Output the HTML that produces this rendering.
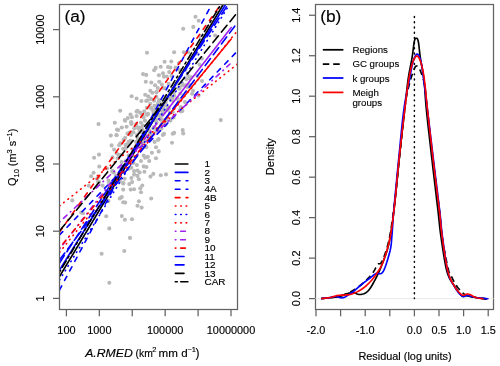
<!DOCTYPE html>
<html><head><meta charset="utf-8"><style>html,body{margin:0;padding:0;background:#fff;width:500px;height:366px;overflow:hidden}svg{display:block;will-change:transform}</style></head>
<body><svg width="500" height="366" viewBox="0 0 500 366"><rect width="500" height="366" fill="#fff"/><g fill="#b9b9b9"><circle cx="147.0" cy="52.8" r="2.05"/><circle cx="174.1" cy="52.3" r="2.05"/><circle cx="164.6" cy="61.8" r="2.05"/><circle cx="171.3" cy="61.5" r="2.05"/><circle cx="160.7" cy="66.7" r="2.05"/><circle cx="155.7" cy="67.9" r="2.05"/><circle cx="154.1" cy="70.3" r="2.05"/><circle cx="168.0" cy="67.0" r="2.05"/><circle cx="170.5" cy="67.5" r="2.05"/><circle cx="143.0" cy="74.1" r="2.05"/><circle cx="146.2" cy="74.9" r="2.05"/><circle cx="158.9" cy="75.2" r="2.05"/><circle cx="163.0" cy="73.3" r="2.05"/><circle cx="169.2" cy="72.1" r="2.05"/><circle cx="163.9" cy="76.6" r="2.05"/><circle cx="166.7" cy="76.6" r="2.05"/><circle cx="175.7" cy="67.5" r="2.05"/><circle cx="195.5" cy="16.8" r="2.05"/><circle cx="198.7" cy="20.8" r="2.05"/><circle cx="193.3" cy="26.9" r="2.05"/><circle cx="183.2" cy="28.8" r="2.05"/><circle cx="215.2" cy="35.5" r="2.05"/><circle cx="200.0" cy="36.0" r="2.05"/><circle cx="183.9" cy="52.3" r="2.05"/><circle cx="179.0" cy="63.0" r="2.05"/><circle cx="176.6" cy="68.7" r="2.05"/><circle cx="199.5" cy="64.6" r="2.05"/><circle cx="202.0" cy="81.0" r="2.05"/><circle cx="186.4" cy="79.3" r="2.05"/><circle cx="189.7" cy="85.0" r="2.05"/><circle cx="179.0" cy="88.4" r="2.05"/><circle cx="193.0" cy="90.8" r="2.05"/><circle cx="172.5" cy="97.4" r="2.05"/><circle cx="145.8" cy="81.8" r="2.05"/><circle cx="151.3" cy="82.5" r="2.05"/><circle cx="155.1" cy="85.2" r="2.05"/><circle cx="159.2" cy="81.8" r="2.05"/><circle cx="161.9" cy="84.6" r="2.05"/><circle cx="157.8" cy="88.0" r="2.05"/><circle cx="163.3" cy="88.0" r="2.05"/><circle cx="150.3" cy="90.7" r="2.05"/><circle cx="152.3" cy="92.8" r="2.05"/><circle cx="156.4" cy="92.1" r="2.05"/><circle cx="131.6" cy="96.2" r="2.05"/><circle cx="136.6" cy="98.5" r="2.05"/><circle cx="141.4" cy="101.0" r="2.05"/><circle cx="145.2" cy="94.8" r="2.05"/><circle cx="148.3" cy="96.2" r="2.05"/><circle cx="146.2" cy="101.0" r="2.05"/><circle cx="147.6" cy="100.3" r="2.05"/><circle cx="151.0" cy="98.9" r="2.05"/><circle cx="150.3" cy="103.7" r="2.05"/><circle cx="156.4" cy="96.9" r="2.05"/><circle cx="159.2" cy="100.3" r="2.05"/><circle cx="146.9" cy="107.8" r="2.05"/><circle cx="151.0" cy="107.8" r="2.05"/><circle cx="154.4" cy="105.7" r="2.05"/><circle cx="157.8" cy="104.4" r="2.05"/><circle cx="120.2" cy="110.8" r="2.05"/><circle cx="136.6" cy="111.6" r="2.05"/><circle cx="140.0" cy="112.6" r="2.05"/><circle cx="144.2" cy="111.2" r="2.05"/><circle cx="130.5" cy="114.6" r="2.05"/><circle cx="127.8" cy="118.0" r="2.05"/><circle cx="124.8" cy="120.1" r="2.05"/><circle cx="131.9" cy="117.3" r="2.05"/><circle cx="136.6" cy="116.0" r="2.05"/><circle cx="142.1" cy="114.6" r="2.05"/><circle cx="114.8" cy="122.8" r="2.05"/><circle cx="131.2" cy="122.1" r="2.05"/><circle cx="143.5" cy="117.3" r="2.05"/><circle cx="147.6" cy="114.6" r="2.05"/><circle cx="220.8" cy="120.1" r="2.05"/><circle cx="174.1" cy="132.9" r="2.05"/><circle cx="183.2" cy="133.4" r="2.05"/><circle cx="164.0" cy="133.9" r="2.05"/><circle cx="172.0" cy="142.7" r="2.05"/><circle cx="160.8" cy="128.6" r="2.05"/><circle cx="173.6" cy="117.4" r="2.05"/><circle cx="170.4" cy="120.6" r="2.05"/><circle cx="161.6" cy="114.2" r="2.05"/><circle cx="182.4" cy="111.0" r="2.05"/><circle cx="98.5" cy="124.1" r="2.05"/><circle cx="118.2" cy="130.0" r="2.05"/><circle cx="110.8" cy="135.6" r="2.05"/><circle cx="116.6" cy="135.2" r="2.05"/><circle cx="119.8" cy="144.3" r="2.05"/><circle cx="111.6" cy="145.4" r="2.05"/><circle cx="114.1" cy="149.5" r="2.05"/><circle cx="99.0" cy="154.6" r="2.05"/><circle cx="94.1" cy="157.7" r="2.05"/><circle cx="112.5" cy="157.4" r="2.05"/><circle cx="116.6" cy="153.3" r="2.05"/><circle cx="125.2" cy="120.7" r="2.05"/><circle cx="117.0" cy="129.6" r="2.05"/><circle cx="121.8" cy="127.5" r="2.05"/><circle cx="126.6" cy="126.8" r="2.05"/><circle cx="116.4" cy="135.0" r="2.05"/><circle cx="120.5" cy="143.2" r="2.05"/><circle cx="125.2" cy="137.8" r="2.05"/><circle cx="131.4" cy="122.7" r="2.05"/><circle cx="138.2" cy="128.2" r="2.05"/><circle cx="141.0" cy="122.7" r="2.05"/><circle cx="145.0" cy="120.7" r="2.05"/><circle cx="143.0" cy="125.5" r="2.05"/><circle cx="133.4" cy="132.3" r="2.05"/><circle cx="136.9" cy="135.0" r="2.05"/><circle cx="130.7" cy="140.5" r="2.05"/><circle cx="138.2" cy="146.0" r="2.05"/><circle cx="132.8" cy="150.0" r="2.05"/><circle cx="128.7" cy="155.5" r="2.05"/><circle cx="123.2" cy="148.7" r="2.05"/><circle cx="117.7" cy="158.3" r="2.05"/><circle cx="146.4" cy="147.3" r="2.05"/><circle cx="147.8" cy="140.5" r="2.05"/><circle cx="150.5" cy="136.4" r="2.05"/><circle cx="154.6" cy="141.9" r="2.05"/><circle cx="158.7" cy="139.1" r="2.05"/><circle cx="156.0" cy="147.3" r="2.05"/><circle cx="151.9" cy="152.8" r="2.05"/><circle cx="158.7" cy="151.4" r="2.05"/><circle cx="156.0" cy="158.3" r="2.05"/><circle cx="149.2" cy="161.0" r="2.05"/><circle cx="147.8" cy="156.9" r="2.05"/><circle cx="143.7" cy="155.5" r="2.05"/><circle cx="141.0" cy="161.0" r="2.05"/><circle cx="136.9" cy="165.1" r="2.05"/><circle cx="143.7" cy="166.4" r="2.05"/><circle cx="131.4" cy="167.8" r="2.05"/><circle cx="161.4" cy="128.2" r="2.05"/><circle cx="162.8" cy="135.0" r="2.05"/><circle cx="153.3" cy="128.2" r="2.05"/><circle cx="149.2" cy="130.9" r="2.05"/><circle cx="99.3" cy="166.5" r="2.05"/><circle cx="93.6" cy="172.7" r="2.05"/><circle cx="91.1" cy="176.3" r="2.05"/><circle cx="96.9" cy="178.8" r="2.05"/><circle cx="72.3" cy="200.4" r="2.05"/><circle cx="83.0" cy="213.2" r="2.05"/><circle cx="109.2" cy="188.6" r="2.05"/><circle cx="119.8" cy="198.4" r="2.05"/><circle cx="101.8" cy="197.6" r="2.05"/><circle cx="108.4" cy="200.9" r="2.05"/><circle cx="146.4" cy="167.0" r="2.05"/><circle cx="134.1" cy="171.1" r="2.05"/><circle cx="137.5" cy="170.5" r="2.05"/><circle cx="139.6" cy="172.5" r="2.05"/><circle cx="134.1" cy="174.6" r="2.05"/><circle cx="137.5" cy="175.9" r="2.05"/><circle cx="131.4" cy="178.0" r="2.05"/><circle cx="138.9" cy="179.3" r="2.05"/><circle cx="144.4" cy="171.8" r="2.05"/><circle cx="150.5" cy="176.6" r="2.05"/><circle cx="153.3" cy="173.9" r="2.05"/><circle cx="160.8" cy="175.2" r="2.05"/><circle cx="123.2" cy="183.4" r="2.05"/><circle cx="129.3" cy="184.1" r="2.05"/><circle cx="132.1" cy="182.1" r="2.05"/><circle cx="142.3" cy="185.5" r="2.05"/><circle cx="140.3" cy="188.2" r="2.05"/><circle cx="123.2" cy="189.6" r="2.05"/><circle cx="130.7" cy="189.6" r="2.05"/><circle cx="134.1" cy="189.3" r="2.05"/><circle cx="141.0" cy="192.3" r="2.05"/><circle cx="121.8" cy="197.1" r="2.05"/><circle cx="123.2" cy="202.2" r="2.05"/><circle cx="125.2" cy="202.6" r="2.05"/><circle cx="138.9" cy="201.2" r="2.05"/><circle cx="151.2" cy="198.5" r="2.05"/><circle cx="137.5" cy="205.7" r="2.05"/><circle cx="141.6" cy="207.6" r="2.05"/><circle cx="124.6" cy="178.7" r="2.05"/><circle cx="121.8" cy="168.4" r="2.05"/><circle cx="106.2" cy="216.2" r="2.05"/><circle cx="121.8" cy="216.1" r="2.05"/><circle cx="124.9" cy="219.8" r="2.05"/><circle cx="132.0" cy="219.3" r="2.05"/><circle cx="109.3" cy="228.4" r="2.05"/><circle cx="130.0" cy="237.9" r="2.05"/><circle cx="124.3" cy="251.0" r="2.05"/><circle cx="101.6" cy="253.8" r="2.05"/><circle cx="109.3" cy="282.7" r="2.05"/><circle cx="166.0" cy="174.4" r="2.05"/><circle cx="159.5" cy="130.5" r="2.05"/><circle cx="176.6" cy="83.7" r="2.05"/><circle cx="139.4" cy="131.9" r="2.05"/><circle cx="163.5" cy="106.7" r="2.05"/><circle cx="156.5" cy="92.3" r="2.05"/><circle cx="187.6" cy="74.9" r="2.05"/><circle cx="165.7" cy="102.8" r="2.05"/><circle cx="143.7" cy="139.3" r="2.05"/><circle cx="168.8" cy="97.9" r="2.05"/><circle cx="150.6" cy="133.2" r="2.05"/><circle cx="119.2" cy="145.2" r="2.05"/><circle cx="155.4" cy="109.2" r="2.05"/><circle cx="98.0" cy="181.9" r="2.05"/><circle cx="131.0" cy="134.0" r="2.05"/><circle cx="113.8" cy="172.5" r="2.05"/><circle cx="170.4" cy="95.4" r="2.05"/><circle cx="134.3" cy="150.5" r="2.05"/><circle cx="165.6" cy="100.8" r="2.05"/><circle cx="169.9" cy="112.8" r="2.05"/><circle cx="139.8" cy="127.6" r="2.05"/><circle cx="160.0" cy="115.2" r="2.05"/><circle cx="168.7" cy="83.9" r="2.05"/><circle cx="128.5" cy="141.9" r="2.05"/><circle cx="108.5" cy="180.6" r="2.05"/><circle cx="158.2" cy="104.7" r="2.05"/><circle cx="189.0" cy="85.1" r="2.05"/><circle cx="167.8" cy="107.1" r="2.05"/><circle cx="164.9" cy="88.2" r="2.05"/><circle cx="168.8" cy="108.5" r="2.05"/><circle cx="109.1" cy="182.7" r="2.05"/><circle cx="148.8" cy="136.8" r="2.05"/><circle cx="139.2" cy="138.8" r="2.05"/><circle cx="152.8" cy="109.9" r="2.05"/><circle cx="163.9" cy="105.5" r="2.05"/><circle cx="158.7" cy="106.8" r="2.05"/><circle cx="180.3" cy="93.5" r="2.05"/><circle cx="149.7" cy="133.7" r="2.05"/><circle cx="192.1" cy="93.8" r="2.05"/><circle cx="117.2" cy="179.2" r="2.05"/><circle cx="160.7" cy="109.8" r="2.05"/><circle cx="133.4" cy="163.0" r="2.05"/><circle cx="122.8" cy="167.8" r="2.05"/><circle cx="171.6" cy="75.9" r="2.05"/><circle cx="134.3" cy="128.2" r="2.05"/><circle cx="165.6" cy="124.6" r="2.05"/><circle cx="188.1" cy="52.2" r="2.05"/><circle cx="140.4" cy="146.7" r="2.05"/><circle cx="191.2" cy="77.0" r="2.05"/><circle cx="133.7" cy="150.1" r="2.05"/><circle cx="148.3" cy="124.5" r="2.05"/><circle cx="134.5" cy="150.2" r="2.05"/><circle cx="156.9" cy="114.8" r="2.05"/><circle cx="136.4" cy="125.8" r="2.05"/><circle cx="145.8" cy="146.3" r="2.05"/><circle cx="136.2" cy="124.0" r="2.05"/><circle cx="185.9" cy="85.3" r="2.05"/><circle cx="201.8" cy="58.5" r="2.05"/><circle cx="129.6" cy="132.6" r="2.05"/><circle cx="198.6" cy="95.6" r="2.05"/><circle cx="125.9" cy="147.9" r="2.05"/><circle cx="159.3" cy="102.0" r="2.05"/><circle cx="141.2" cy="131.9" r="2.05"/><circle cx="161.6" cy="124.3" r="2.05"/><circle cx="156.4" cy="128.8" r="2.05"/><circle cx="141.8" cy="139.9" r="2.05"/><circle cx="88.7" cy="185.7" r="2.05"/><circle cx="165.7" cy="96.9" r="2.05"/><circle cx="167.6" cy="109.3" r="2.05"/><circle cx="187.4" cy="87.0" r="2.05"/><circle cx="174.1" cy="92.2" r="2.05"/><circle cx="128.3" cy="143.6" r="2.05"/><circle cx="130.9" cy="135.0" r="2.05"/><circle cx="136.1" cy="141.9" r="2.05"/><circle cx="154.0" cy="115.4" r="2.05"/><circle cx="102.6" cy="185.6" r="2.05"/><circle cx="162.4" cy="123.1" r="2.05"/><circle cx="160.0" cy="103.5" r="2.05"/><circle cx="145.1" cy="157.8" r="2.05"/><circle cx="180.1" cy="109.9" r="2.05"/><circle cx="196.7" cy="53.5" r="2.05"/><circle cx="162.3" cy="115.0" r="2.05"/><circle cx="167.1" cy="109.9" r="2.05"/><circle cx="156.0" cy="119.4" r="2.05"/><circle cx="112.3" cy="171.8" r="2.05"/><circle cx="132.6" cy="149.3" r="2.05"/><circle cx="142.5" cy="142.8" r="2.05"/><circle cx="171.9" cy="100.5" r="2.05"/><circle cx="158.3" cy="115.4" r="2.05"/><circle cx="138.0" cy="138.4" r="2.05"/><circle cx="140.4" cy="142.6" r="2.05"/><circle cx="154.0" cy="127.4" r="2.05"/><circle cx="123.2" cy="171.5" r="2.05"/><circle cx="126.7" cy="145.6" r="2.05"/><circle cx="141.6" cy="128.5" r="2.05"/><circle cx="153.5" cy="113.0" r="2.05"/><circle cx="118.6" cy="154.8" r="2.05"/><circle cx="182.3" cy="83.6" r="2.05"/><circle cx="121.6" cy="162.1" r="2.05"/><circle cx="123.4" cy="183.1" r="2.05"/><circle cx="115.9" cy="175.7" r="2.05"/><circle cx="154.1" cy="100.7" r="2.05"/><circle cx="163.6" cy="120.3" r="2.05"/><circle cx="163.1" cy="111.4" r="2.05"/><circle cx="174.2" cy="95.7" r="2.05"/><circle cx="157.4" cy="113.7" r="2.05"/><circle cx="159.4" cy="100.4" r="2.05"/><circle cx="166.1" cy="97.4" r="2.05"/><circle cx="125.7" cy="161.4" r="2.05"/><circle cx="197.4" cy="76.0" r="2.05"/><circle cx="141.9" cy="144.8" r="2.05"/><circle cx="138.1" cy="138.8" r="2.05"/><circle cx="137.5" cy="110.9" r="2.05"/><circle cx="148.1" cy="113.9" r="2.05"/><circle cx="123.6" cy="139.9" r="2.05"/><circle cx="107.0" cy="168.5" r="2.05"/><circle cx="180.7" cy="107.0" r="2.05"/><circle cx="156.3" cy="131.1" r="2.05"/><circle cx="131.4" cy="124.0" r="2.05"/><circle cx="156.5" cy="122.4" r="2.05"/><circle cx="141.5" cy="140.1" r="2.05"/><circle cx="158.5" cy="102.6" r="2.05"/><circle cx="112.6" cy="170.7" r="2.05"/><circle cx="142.6" cy="130.0" r="2.05"/><circle cx="185.0" cy="102.1" r="2.05"/><circle cx="144.3" cy="141.6" r="2.05"/><circle cx="177.5" cy="98.6" r="2.05"/><circle cx="173.1" cy="89.9" r="2.05"/><circle cx="180.9" cy="111.4" r="2.05"/><circle cx="165.7" cy="96.5" r="2.05"/><circle cx="172.8" cy="111.9" r="2.05"/><circle cx="155.4" cy="110.6" r="2.05"/><circle cx="179.7" cy="70.0" r="2.05"/><circle cx="162.2" cy="109.0" r="2.05"/><circle cx="128.6" cy="168.8" r="2.05"/><circle cx="151.1" cy="108.3" r="2.05"/><circle cx="161.9" cy="103.8" r="2.05"/><circle cx="99.2" cy="182.0" r="2.05"/><circle cx="160.5" cy="119.7" r="2.05"/><circle cx="154.3" cy="120.0" r="2.05"/><circle cx="160.1" cy="109.1" r="2.05"/><circle cx="179.6" cy="88.4" r="2.05"/><circle cx="160.6" cy="118.3" r="2.05"/><circle cx="119.7" cy="155.1" r="2.05"/><circle cx="189.4" cy="78.2" r="2.05"/><circle cx="145.3" cy="135.6" r="2.05"/><circle cx="140.0" cy="141.6" r="2.05"/><circle cx="135.5" cy="147.5" r="2.05"/><circle cx="120.0" cy="181.5" r="2.05"/><circle cx="127.5" cy="133.6" r="2.05"/><circle cx="142.2" cy="130.3" r="2.05"/><circle cx="146.5" cy="114.6" r="2.05"/><circle cx="182.7" cy="130.1" r="2.05"/><circle cx="121.0" cy="167.2" r="2.05"/><circle cx="143.6" cy="135.8" r="2.05"/><circle cx="98.5" cy="176.8" r="2.05"/><circle cx="161.0" cy="110.2" r="2.05"/><circle cx="185.4" cy="69.7" r="2.05"/><circle cx="172.7" cy="133.7" r="2.05"/><circle cx="125.6" cy="144.9" r="2.05"/><circle cx="148.9" cy="125.9" r="2.05"/><circle cx="171.4" cy="98.9" r="2.05"/><circle cx="132.9" cy="150.0" r="2.05"/><circle cx="81.2" cy="212.5" r="2.05"/><circle cx="132.6" cy="155.8" r="2.05"/><circle cx="158.0" cy="139.9" r="2.05"/><circle cx="178.4" cy="99.8" r="2.05"/><circle cx="154.3" cy="118.9" r="2.05"/><circle cx="166.5" cy="120.5" r="2.05"/><circle cx="160.8" cy="106.3" r="2.05"/><circle cx="182.3" cy="85.5" r="2.05"/></g><clipPath id="ca"><rect x="59.5" y="4.5" width="178.0" height="305.0"/></clipPath><g clip-path="url(#ca)" fill="none" stroke-width="1.6" stroke-linecap="round"><line x1="59.5" y1="276.5" x2="223.2" y2="4.5" stroke="#000"/><line x1="59.5" y1="270" x2="225.6" y2="4.5" stroke="#0000ff"/><line x1="59.5" y1="290" x2="211.7" y2="4.5" stroke="#0000ff" stroke-dasharray="4.68 6.12"/><line x1="59.5" y1="235" x2="237.5" y2="51" stroke="#0000ff" stroke-dasharray="4.68 6.12"/><line x1="59.5" y1="232" x2="220.8" y2="4.5" stroke="#ff0000" stroke-dasharray="4.68 6.12"/><line x1="59.5" y1="206" x2="237.5" y2="64" stroke="#ff0000" stroke-dasharray="0.63 4.77"/><line x1="59.5" y1="280" x2="229.5" y2="4.5" stroke="#0000ff" stroke-dasharray="0.63 4.77"/><line x1="59.5" y1="252.4" x2="237.5" y2="30.6" stroke="#ff0000" stroke-dasharray="0.63 4.77"/><line x1="59.5" y1="249.0" x2="165" y2="112.90069889341873" stroke="#a020f0" stroke-dasharray="0.63 4.77 4.68 4.77"/><line x1="165" y1="112.90069889341873" x2="231.2" y2="27.5" stroke="#a020f0"/><line x1="59.5" y1="222" x2="230" y2="64" stroke="#a020f0" stroke-dasharray="0.63 4.77 4.68 4.77"/><line x1="59.5" y1="248.0" x2="160" y2="125.66744321490972" stroke="#ff0000" stroke-dasharray="0.63 4.77 4.68 4.77"/><line x1="160" y1="125.66744321490972" x2="231.2" y2="39.0" stroke="#ff0000"/><line x1="59.5" y1="263" x2="228" y2="4.5" stroke="#0000ff" stroke-dasharray="8.73 4.77"/><line x1="59.5" y1="260" x2="237.5" y2="22.5" stroke="#0000ff" stroke-dasharray="8.73 4.77"/><line x1="59.5" y1="231" x2="237.5" y2="12.4" stroke="#000" stroke-dasharray="8.73 4.77"/><line x1="59.5" y1="272" x2="220.8" y2="4.5" stroke="#000" stroke-dasharray="1.98 3.42 7.38 3.42"/></g><rect x="59.5" y="4.5" width="178.0" height="305.0" fill="none" stroke="#626262" stroke-width="1.25"/><rect x="315.5" y="4.5" width="178.0" height="305.0" fill="none" stroke="#626262" stroke-width="1.25"/><line x1="66.40" y1="309.5" x2="66.40" y2="316.3" stroke="#626262" stroke-width="1.25"/><line x1="99.32" y1="309.5" x2="99.32" y2="316.3" stroke="#626262" stroke-width="1.25"/><line x1="132.24" y1="309.5" x2="132.24" y2="316.3" stroke="#626262" stroke-width="1.25"/><line x1="165.16" y1="309.5" x2="165.16" y2="316.3" stroke="#626262" stroke-width="1.25"/><line x1="198.08" y1="309.5" x2="198.08" y2="316.3" stroke="#626262" stroke-width="1.25"/><line x1="231.00" y1="309.5" x2="231.00" y2="316.3" stroke="#626262" stroke-width="1.25"/><line x1="53" y1="298.40" x2="59.5" y2="298.40" stroke="#626262" stroke-width="1.25"/><line x1="53" y1="231.20" x2="59.5" y2="231.20" stroke="#626262" stroke-width="1.25"/><line x1="53" y1="164.00" x2="59.5" y2="164.00" stroke="#626262" stroke-width="1.25"/><line x1="53" y1="96.80" x2="59.5" y2="96.80" stroke="#626262" stroke-width="1.25"/><line x1="53" y1="29.60" x2="59.5" y2="29.60" stroke="#626262" stroke-width="1.25"/><line x1="316.00" y1="309.5" x2="316.00" y2="316.3" stroke="#626262" stroke-width="1.25"/><line x1="340.60" y1="309.5" x2="340.60" y2="316.3" stroke="#626262" stroke-width="1.25"/><line x1="365.20" y1="309.5" x2="365.20" y2="316.3" stroke="#626262" stroke-width="1.25"/><line x1="389.80" y1="309.5" x2="389.80" y2="316.3" stroke="#626262" stroke-width="1.25"/><line x1="414.40" y1="309.5" x2="414.40" y2="316.3" stroke="#626262" stroke-width="1.25"/><line x1="439.00" y1="309.5" x2="439.00" y2="316.3" stroke="#626262" stroke-width="1.25"/><line x1="463.60" y1="309.5" x2="463.60" y2="316.3" stroke="#626262" stroke-width="1.25"/><line x1="488.20" y1="309.5" x2="488.20" y2="316.3" stroke="#626262" stroke-width="1.25"/><line x1="309" y1="298.60" x2="315.5" y2="298.60" stroke="#626262" stroke-width="1.25"/><line x1="309" y1="258.12" x2="315.5" y2="258.12" stroke="#626262" stroke-width="1.25"/><line x1="309" y1="217.64" x2="315.5" y2="217.64" stroke="#626262" stroke-width="1.25"/><line x1="309" y1="177.16" x2="315.5" y2="177.16" stroke="#626262" stroke-width="1.25"/><line x1="309" y1="136.68" x2="315.5" y2="136.68" stroke="#626262" stroke-width="1.25"/><line x1="309" y1="96.20" x2="315.5" y2="96.20" stroke="#626262" stroke-width="1.25"/><line x1="309" y1="55.72" x2="315.5" y2="55.72" stroke="#626262" stroke-width="1.25"/><line x1="309" y1="15.24" x2="315.5" y2="15.24" stroke="#626262" stroke-width="1.25"/><g font-family='"Liberation Sans", sans-serif' fill="#000" stroke="#000" stroke-width="0.15"><text x="0" y="0" font-size="10.9" text-anchor="middle" transform="translate(66.40 333.6) scale(1.0 1)">100</text><text x="0" y="0" font-size="10.9" text-anchor="middle" transform="translate(99.32 333.6) scale(1.0 1)">1000</text><text x="0" y="0" font-size="10.9" text-anchor="middle" transform="translate(165.16 333.6) scale(1.0 1)">100000</text><text x="0" y="0" font-size="10.9" text-anchor="middle" transform="translate(231.00 333.6) scale(1.0 1)">10000000</text><text x="0" y="0" font-size="10.9" text-anchor="middle" transform="translate(44.3 298.40) rotate(-90) scale(1.0 1)">1</text><text x="0" y="0" font-size="10.9" text-anchor="middle" transform="translate(44.3 231.20) rotate(-90) scale(1.0 1)">10</text><text x="0" y="0" font-size="10.9" text-anchor="middle" transform="translate(44.3 164.00) rotate(-90) scale(1.0 1)">100</text><text x="0" y="0" font-size="10.9" text-anchor="middle" transform="translate(44.3 96.80) rotate(-90) scale(1.0 1)">1000</text><text x="0" y="0" font-size="10.9" text-anchor="middle" transform="translate(44.3 29.60) rotate(-90) scale(1.0 1)">10000</text><text x="0" y="0" font-size="10.9" text-anchor="middle" transform="translate(316.00 333.6) scale(1.0 1)">-2.0</text><text x="0" y="0" font-size="10.9" text-anchor="middle" transform="translate(365.20 333.6) scale(1.0 1)">-1.0</text><text x="0" y="0" font-size="10.9" text-anchor="middle" transform="translate(414.40 333.6) scale(1.0 1)">0.0</text><text x="0" y="0" font-size="10.9" text-anchor="middle" transform="translate(439.00 333.6) scale(1.0 1)">0.5</text><text x="0" y="0" font-size="10.9" text-anchor="middle" transform="translate(463.60 333.6) scale(1.0 1)">1.0</text><text x="0" y="0" font-size="10.9" text-anchor="middle" transform="translate(488.20 333.6) scale(1.0 1)">1.5</text><text x="0" y="0" font-size="10.9" text-anchor="middle" transform="translate(300.4 298.60) rotate(-90) scale(1.0 1)">0.0</text><text x="0" y="0" font-size="10.9" text-anchor="middle" transform="translate(300.4 258.12) rotate(-90) scale(1.0 1)">0.2</text><text x="0" y="0" font-size="10.9" text-anchor="middle" transform="translate(300.4 217.64) rotate(-90) scale(1.0 1)">0.4</text><text x="0" y="0" font-size="10.9" text-anchor="middle" transform="translate(300.4 177.16) rotate(-90) scale(1.0 1)">0.6</text><text x="0" y="0" font-size="10.9" text-anchor="middle" transform="translate(300.4 136.68) rotate(-90) scale(1.0 1)">0.8</text><text x="0" y="0" font-size="10.9" text-anchor="middle" transform="translate(300.4 96.20) rotate(-90) scale(1.0 1)">1.0</text><text x="0" y="0" font-size="10.9" text-anchor="middle" transform="translate(300.4 55.72) rotate(-90) scale(1.0 1)">1.2</text><text x="0" y="0" font-size="10.9" text-anchor="middle" transform="translate(300.4 15.24) rotate(-90) scale(1.0 1)">1.4</text><text x="0" y="0" font-size="17.3" text-anchor="start" transform="translate(64.4 21.9) scale(1.0 1)">(a)</text><text x="0" y="0" font-size="17.3" text-anchor="start" transform="translate(320.2 22.1) scale(1.0 1)">(b)</text><text x="85.2" y="356.8" font-size="11.4" font-style="italic" textLength="47.6" lengthAdjust="spacingAndGlyphs">A.RMED</text><text x="135.6" y="356.8" font-size="11.2" textLength="17.2" lengthAdjust="spacingAndGlyphs">(km</text><text x="152.3" y="352" font-size="7.6">2</text><text x="158.6" y="356.8" font-size="11.2" textLength="29.0" lengthAdjust="spacingAndGlyphs">mm d</text><text x="187.4" y="352" font-size="7.6">−1</text><text x="195.6" y="357" font-size="11.9">)</text><text x="358.4" y="359.6" font-size="10.9">Residual (log units)</text><text x="274.2" y="175.2" font-size="11.1" transform="rotate(-90 274.2 175.2)">Density</text><text x="16" y="186" font-size="10.9" transform="rotate(-90 16 186)">Q<tspan font-size="7.5" dy="3">10</tspan><tspan dy="-3"> (m</tspan><tspan font-size="7.5" dy="-4">3</tspan><tspan dy="4"> s</tspan><tspan font-size="7.5" dy="-4">−1</tspan><tspan dy="4">)</tspan></text></g><g fill="none" stroke-width="1.6" stroke-linecap="round"><line x1="175.3" y1="164.00" x2="187.9" y2="164.00" stroke="#000"/><line x1="175.3" y1="172.41" x2="187.9" y2="172.41" stroke="#0000ff"/><line x1="175.3" y1="180.82" x2="187.9" y2="180.82" stroke="#0000ff" stroke-dasharray="4.68 6.12"/><line x1="175.3" y1="189.23" x2="187.9" y2="189.23" stroke="#0000ff" stroke-dasharray="4.68 6.12"/><line x1="175.3" y1="197.64" x2="187.9" y2="197.64" stroke="#ff0000" stroke-dasharray="4.68 6.12"/><line x1="175.3" y1="206.05" x2="187.9" y2="206.05" stroke="#ff0000" stroke-dasharray="0.63 4.77"/><line x1="175.3" y1="214.46" x2="187.9" y2="214.46" stroke="#0000ff" stroke-dasharray="0.63 4.77"/><line x1="175.3" y1="222.87" x2="187.9" y2="222.87" stroke="#ff0000" stroke-dasharray="0.63 4.77"/><line x1="175.3" y1="231.28" x2="187.9" y2="231.28" stroke="#a020f0" stroke-dasharray="0.63 4.77 4.68 4.77"/><line x1="175.3" y1="239.69" x2="187.9" y2="239.69" stroke="#a020f0" stroke-dasharray="0.63 4.77 4.68 4.77"/><line x1="175.3" y1="248.10" x2="187.9" y2="248.10" stroke="#ff0000" stroke-dasharray="0.63 4.77 4.68 4.77"/><line x1="175.3" y1="256.51" x2="187.9" y2="256.51" stroke="#0000ff" stroke-dasharray="8.73 4.77"/><line x1="175.3" y1="264.92" x2="187.9" y2="264.92" stroke="#0000ff" stroke-dasharray="8.73 4.77"/><line x1="175.3" y1="273.33" x2="187.9" y2="273.33" stroke="#000" stroke-dasharray="8.73 4.77"/><line x1="175.3" y1="281.74" x2="187.9" y2="281.74" stroke="#000" stroke-dasharray="1.98 3.42 7.38 3.42"/></g><g font-family='"Liberation Sans", sans-serif' fill="#000" stroke="#000" stroke-width="0.15"><text x="0" y="0" font-size="9.2" text-anchor="start" transform="translate(204.5 167.20) scale(1.08 1)">1</text><text x="0" y="0" font-size="9.2" text-anchor="start" transform="translate(204.5 175.61) scale(1.08 1)">2</text><text x="0" y="0" font-size="9.2" text-anchor="start" transform="translate(204.5 184.02) scale(1.08 1)">3</text><text x="0" y="0" font-size="9.2" text-anchor="start" transform="translate(204.5 192.43) scale(1.08 1)">4A</text><text x="0" y="0" font-size="9.2" text-anchor="start" transform="translate(204.5 200.84) scale(1.08 1)">4B</text><text x="0" y="0" font-size="9.2" text-anchor="start" transform="translate(204.5 209.25) scale(1.08 1)">5</text><text x="0" y="0" font-size="9.2" text-anchor="start" transform="translate(204.5 217.66) scale(1.08 1)">6</text><text x="0" y="0" font-size="9.2" text-anchor="start" transform="translate(204.5 226.07) scale(1.08 1)">7</text><text x="0" y="0" font-size="9.2" text-anchor="start" transform="translate(204.5 234.48) scale(1.08 1)">8</text><text x="0" y="0" font-size="9.2" text-anchor="start" transform="translate(204.5 242.89) scale(1.08 1)">9</text><text x="0" y="0" font-size="9.2" text-anchor="start" transform="translate(204.5 251.30) scale(1.08 1)">10</text><text x="0" y="0" font-size="9.2" text-anchor="start" transform="translate(204.5 259.71) scale(1.08 1)">11</text><text x="0" y="0" font-size="9.2" text-anchor="start" transform="translate(204.5 268.12) scale(1.08 1)">12</text><text x="0" y="0" font-size="9.2" text-anchor="start" transform="translate(204.5 276.53) scale(1.08 1)">13</text><text x="0" y="0" font-size="9.2" text-anchor="start" transform="translate(204.5 284.94) scale(1.08 1)">CAR</text></g><line x1="315.5" y1="298.60" x2="493.5" y2="298.60" stroke="#ebebeb" stroke-width="1"/><line x1="414.40" y1="16.6" x2="414.40" y2="298.60" stroke="#000" stroke-width="1.5" stroke-linecap="round" stroke-dasharray="0.9 4.31"/><path d="M321.20,298.60 L321.87,298.53 L322.75,298.43 L323.80,298.32 L324.97,298.20 L326.23,298.06 L327.51,297.92 L328.78,297.76 L330.00,297.60 L331.18,297.45 L332.37,297.32 L333.57,297.19 L334.80,297.05 L336.05,296.88 L337.33,296.65 L338.65,296.37 L340.00,296.00 L341.42,295.55 L342.91,295.04 L344.44,294.46 L346.00,293.84 L347.56,293.17 L349.09,292.47 L350.58,291.74 L352.00,291.00 L353.35,290.24 L354.64,289.46 L355.90,288.65 L357.12,287.81 L358.34,286.93 L359.55,286.01 L360.76,285.03 L362.00,284.00 L363.28,282.89 L364.60,281.70 L365.94,280.44 L367.28,279.15 L368.57,277.84 L369.81,276.53 L370.96,275.24 L372.00,274.00 L372.93,272.74 L373.76,271.42 L374.52,270.09 L375.21,268.77 L375.85,267.53 L376.46,266.39 L377.04,265.40 L377.60,264.60 L378.13,264.08 L378.59,263.83 L379.01,263.75 L379.40,263.78 L379.78,263.80 L380.16,263.74 L380.56,263.50 L381.00,263.00 L381.46,262.30 L381.93,261.50 L382.41,260.61 L382.90,259.59 L383.40,258.43 L383.92,257.13 L384.45,255.65 L385.00,254.00 L385.58,252.21 L386.18,250.33 L386.80,248.31 L387.44,246.12 L388.08,243.74 L388.73,241.11 L389.37,238.21 L390.00,235.00 L390.63,231.46 L391.25,227.61 L391.88,223.49 L392.51,219.12 L393.14,214.56 L393.76,209.83 L394.38,204.96 L395.00,200.00 L395.61,194.85 L396.21,189.45 L396.81,183.86 L397.41,178.12 L398.01,172.31 L398.60,166.48 L399.20,160.69 L399.80,155.00 L400.42,149.17 L401.06,143.05 L401.71,136.81 L402.36,130.62 L402.99,124.68 L403.58,119.14 L404.12,114.19 L404.60,110.00 L404.99,106.69 L405.30,104.14 L405.55,102.18 L405.77,100.62 L405.98,99.31 L406.21,98.05 L406.47,96.67 L406.80,95.00 L407.19,93.10 L407.62,91.16 L408.08,89.20 L408.56,87.25 L409.05,85.33 L409.54,83.47 L410.03,81.68 L410.50,80.00 L410.97,78.38 L411.45,76.78 L411.94,75.23 L412.43,73.75 L412.90,72.36 L413.36,71.09 L413.79,69.96 L414.20,69.00 L414.56,68.19 L414.89,67.52 L415.19,66.98 L415.48,66.56 L415.76,66.26 L416.05,66.07 L416.36,65.99 L416.70,66.00 L417.07,66.09 L417.44,66.25 L417.82,66.50 L418.22,66.88 L418.63,67.39 L419.06,68.06 L419.52,68.93 L420.00,70.00 L420.52,71.27 L421.10,72.70 L421.70,74.29 L422.33,76.06 L422.94,78.01 L423.54,80.15 L424.10,82.48 L424.60,85.00 L425.02,87.64 L425.38,90.37 L425.68,93.24 L425.98,96.31 L426.27,99.66 L426.61,103.35 L427.01,107.44 L427.50,112.00 L428.08,117.16 L428.74,122.93 L429.45,129.15 L430.20,135.69 L430.98,142.39 L431.76,149.10 L432.54,155.69 L433.30,162.00 L434.07,168.24 L434.88,174.63 L435.71,181.07 L436.54,187.44 L437.34,193.63 L438.10,199.52 L438.79,205.02 L439.40,210.00 L439.89,214.35 L440.26,218.13 L440.56,221.49 L440.82,224.56 L441.08,227.50 L441.37,230.46 L441.73,233.58 L442.20,237.00 L442.79,240.83 L443.48,244.97 L444.23,249.28 L445.03,253.59 L445.82,257.77 L446.61,261.67 L447.34,265.13 L448.00,268.00 L448.59,270.23 L449.13,271.93 L449.63,273.23 L450.11,274.22 L450.58,275.03 L451.04,275.77 L451.51,276.56 L452.00,277.50 L452.49,278.54 L452.98,279.55 L453.46,280.52 L453.94,281.47 L454.43,282.39 L454.94,283.28 L455.46,284.15 L456.00,285.00 L456.57,285.84 L457.16,286.65 L457.76,287.45 L458.38,288.22 L459.01,288.96 L459.64,289.68 L460.27,290.36 L460.90,291.00 L461.49,291.61 L462.05,292.18 L462.58,292.71 L463.13,293.22 L463.72,293.70 L464.38,294.15 L465.13,294.59 L466.00,295.00 L467.01,295.39 L468.14,295.75 L469.36,296.09 L470.65,296.41 L471.98,296.70 L473.34,296.98 L474.68,297.25 L476.00,297.50 L477.38,297.75 L478.88,297.98 L480.43,298.20 L481.98,298.41 L483.44,298.59 L484.76,298.75 L485.87,298.89 L486.70,299.00" fill="none" stroke="#000" stroke-width="1.65" stroke-linejoin="round" stroke-dasharray="6 4"/><path d="M321.20,298.60 L321.87,298.54 L322.75,298.47 L323.80,298.39 L324.97,298.29 L326.23,298.19 L327.51,298.07 L328.78,297.94 L330.00,297.80 L331.18,297.66 L332.37,297.53 L333.57,297.39 L334.80,297.24 L336.05,297.06 L337.33,296.85 L338.65,296.60 L340.00,296.30 L341.43,295.90 L342.95,295.38 L344.53,294.79 L346.12,294.18 L347.71,293.60 L349.23,293.10 L350.68,292.71 L352.00,292.50 L353.19,292.51 L354.28,292.72 L355.29,293.07 L356.25,293.48 L357.18,293.90 L358.09,294.25 L359.03,294.47 L360.00,294.50 L361.00,294.39 L362.00,294.23 L363.00,294.01 L364.00,293.69 L365.00,293.25 L366.00,292.67 L367.00,291.93 L368.00,291.00 L369.01,289.85 L370.02,288.49 L371.04,286.95 L372.06,285.28 L373.07,283.51 L374.07,281.68 L375.05,279.83 L376.00,278.00 L376.93,276.16 L377.84,274.28 L378.74,272.35 L379.62,270.38 L380.49,268.35 L381.34,266.28 L382.18,264.16 L383.00,262.00 L383.80,259.86 L384.59,257.79 L385.37,255.71 L386.12,253.56 L386.87,251.28 L387.59,248.80 L388.30,246.07 L389.00,243.00 L389.67,239.66 L390.32,236.13 L390.95,232.40 L391.56,228.44 L392.17,224.24 L392.77,219.77 L393.38,215.03 L394.00,210.00 L394.62,204.56 L395.23,198.70 L395.84,192.50 L396.46,186.06 L397.07,179.50 L397.70,172.90 L398.34,166.37 L399.00,160.00 L399.70,153.61 L400.43,147.03 L401.19,140.37 L401.96,133.75 L402.71,127.29 L403.43,121.09 L404.10,115.29 L404.70,110.00 L405.22,105.24 L405.67,100.92 L406.08,96.96 L406.45,93.29 L406.81,89.83 L407.18,86.51 L407.57,83.26 L408.00,80.00 L408.49,76.78 L409.01,73.67 L409.56,70.69 L410.12,67.82 L410.67,65.06 L411.19,62.41 L411.67,59.85 L412.10,57.40 L412.47,55.01 L412.79,52.66 L413.08,50.39 L413.34,48.24 L413.58,46.25 L413.82,44.43 L414.05,42.84 L414.30,41.50 L414.55,40.44 L414.79,39.63 L415.03,39.05 L415.26,38.65 L415.49,38.40 L415.72,38.27 L415.95,38.21 L416.20,38.20 L416.45,38.21 L416.71,38.27 L416.98,38.40 L417.24,38.65 L417.51,39.05 L417.78,39.63 L418.04,40.44 L418.30,41.50 L418.54,42.84 L418.77,44.43 L418.98,46.25 L419.20,48.24 L419.43,50.39 L419.68,52.66 L419.97,55.01 L420.30,57.40 L420.69,59.85 L421.14,62.41 L421.62,65.06 L422.12,67.82 L422.63,70.69 L423.13,73.67 L423.59,76.78 L424.00,80.00 L424.34,83.26 L424.62,86.51 L424.85,89.83 L425.08,93.29 L425.32,96.96 L425.61,100.92 L425.96,105.24 L426.40,110.00 L426.94,115.29 L427.57,121.09 L428.25,127.29 L428.98,133.75 L429.74,140.37 L430.50,147.03 L431.26,153.61 L432.00,160.00 L432.74,166.41 L433.52,173.04 L434.31,179.76 L435.11,186.44 L435.88,192.93 L436.61,199.12 L437.29,204.85 L437.90,210.00 L438.40,214.42 L438.80,218.19 L439.14,221.47 L439.44,224.46 L439.75,227.32 L440.09,230.25 L440.49,233.41 L441.00,237.00 L441.60,241.11 L442.26,245.61 L442.97,250.35 L443.73,255.14 L444.51,259.84 L445.33,264.28 L446.16,268.29 L447.00,271.70 L447.87,274.49 L448.77,276.81 L449.70,278.75 L450.66,280.39 L451.62,281.85 L452.59,283.21 L453.55,284.56 L454.50,286.00 L455.46,287.53 L456.46,289.05 L457.47,290.53 L458.47,291.93 L459.44,293.21 L460.37,294.34 L461.23,295.28 L462.00,296.00 L462.65,296.43 L463.20,296.57 L463.67,296.49 L464.09,296.28 L464.51,296.00 L464.94,295.73 L465.43,295.54 L466.00,295.50 L466.59,295.59 L467.16,295.72 L467.72,295.89 L468.33,296.09 L469.02,296.31 L469.84,296.54 L470.82,296.77 L472.00,297.00 L473.52,297.24 L475.41,297.51 L477.52,297.80 L479.73,298.09 L481.88,298.37 L483.85,298.63 L485.51,298.84 L486.70,299.00" fill="none" stroke="#000" stroke-width="1.65" stroke-linejoin="round"/><path d="M321.20,298.60 L321.81,298.52 L322.62,298.42 L323.59,298.30 L324.66,298.17 L325.79,298.03 L326.92,297.88 L328.01,297.74 L329.00,297.60 L329.91,297.45 L330.81,297.28 L331.68,297.09 L332.55,296.91 L333.41,296.75 L334.27,296.62 L335.13,296.53 L336.00,296.50 L336.86,296.58 L337.70,296.79 L338.54,297.06 L339.38,297.36 L340.23,297.62 L341.11,297.80 L342.03,297.84 L343.00,297.70 L344.03,297.37 L345.11,296.90 L346.23,296.32 L347.38,295.64 L348.54,294.90 L349.70,294.11 L350.86,293.30 L352.00,292.50 L353.12,291.67 L354.25,290.78 L355.38,289.83 L356.50,288.86 L357.62,287.88 L358.75,286.89 L359.88,285.93 L361.00,285.00 L362.15,284.08 L363.32,283.15 L364.51,282.22 L365.69,281.31 L366.84,280.41 L367.96,279.56 L369.02,278.75 L370.00,278.00 L370.89,277.31 L371.69,276.66 L372.43,276.05 L373.12,275.47 L373.81,274.95 L374.50,274.46 L375.22,274.01 L376.00,273.60 L376.83,273.38 L377.68,273.41 L378.55,273.57 L379.44,273.73 L380.33,273.75 L381.23,273.53 L382.12,272.92 L383.00,271.80 L383.91,270.08 L384.87,267.82 L385.84,265.18 L386.81,262.29 L387.74,259.28 L388.60,256.31 L389.36,253.50 L390.00,251.00 L390.49,248.83 L390.86,246.87 L391.12,245.04 L391.32,243.26 L391.48,241.45 L391.63,239.52 L391.79,237.40 L392.00,235.00 L392.21,232.48 L392.39,229.97 L392.56,227.38 L392.72,224.62 L392.91,221.60 L393.14,218.22 L393.43,214.38 L393.80,210.00 L394.25,204.95 L394.78,199.26 L395.36,193.08 L395.99,186.56 L396.64,179.85 L397.30,173.09 L397.96,166.42 L398.60,160.00 L399.23,153.61 L399.86,147.03 L400.50,140.37 L401.15,133.75 L401.80,127.29 L402.46,121.09 L403.13,115.29 L403.80,110.00 L404.49,105.21 L405.22,100.81 L405.96,96.76 L406.70,93.00 L407.43,89.49 L408.13,86.19 L408.79,83.04 L409.40,80.00 L409.94,77.11 L410.43,74.42 L410.87,71.93 L411.29,69.62 L411.69,67.49 L412.10,65.52 L412.53,63.69 L413.00,62.00 L413.50,60.41 L414.02,58.92 L414.55,57.56 L415.09,56.38 L415.63,55.39 L416.16,54.64 L416.69,54.17 L417.20,54.00 L417.70,54.17 L418.20,54.64 L418.70,55.39 L419.19,56.38 L419.67,57.56 L420.14,58.92 L420.58,60.41 L421.00,62.00 L421.38,63.69 L421.73,65.52 L422.04,67.49 L422.35,69.62 L422.66,71.93 L422.97,74.42 L423.32,77.11 L423.70,80.00 L424.11,83.04 L424.52,86.19 L424.95,89.49 L425.39,93.00 L425.87,96.76 L426.37,100.81 L426.91,105.21 L427.50,110.00 L428.14,115.29 L428.84,121.09 L429.58,127.29 L430.36,133.75 L431.15,140.37 L431.94,147.03 L432.73,153.61 L433.50,160.00 L434.28,166.41 L435.09,173.04 L435.92,179.76 L436.74,186.44 L437.54,192.93 L438.30,199.12 L438.99,204.85 L439.60,210.00 L440.10,214.42 L440.49,218.18 L440.81,221.46 L441.09,224.44 L441.36,227.30 L441.67,230.23 L442.03,233.40 L442.50,237.00 L443.05,241.13 L443.66,245.64 L444.31,250.40 L444.99,255.22 L445.71,259.95 L446.46,264.43 L447.22,268.50 L448.00,272.00 L448.80,274.92 L449.64,277.41 L450.52,279.55 L451.41,281.41 L452.31,283.06 L453.21,284.57 L454.11,286.03 L455.00,287.50 L455.88,288.96 L456.77,290.33 L457.67,291.60 L458.56,292.75 L459.45,293.78 L460.32,294.67 L461.17,295.42 L462.00,296.00 L462.78,296.35 L463.52,296.45 L464.24,296.36 L464.94,296.16 L465.65,295.90 L466.38,295.66 L467.16,295.50 L468.00,295.50 L468.87,295.64 L469.75,295.84 L470.66,296.10 L471.59,296.39 L472.58,296.69 L473.64,296.99 L474.77,297.27 L476.00,297.50 L477.43,297.70 L479.10,297.90 L480.91,298.10 L482.75,298.27 L484.53,298.44 L486.15,298.58 L487.50,298.70 L488.50,298.80" fill="none" stroke="#0000ff" stroke-width="1.65" stroke-linejoin="round"/><path d="M321.20,298.60 L321.89,298.52 L322.81,298.42 L323.92,298.31 L325.14,298.18 L326.42,298.03 L327.69,297.86 L328.91,297.69 L330.00,297.50 L330.99,297.28 L331.94,297.03 L332.87,296.75 L333.78,296.46 L334.67,296.18 L335.57,295.92 L336.47,295.68 L337.40,295.50 L338.34,295.37 L339.30,295.28 L340.26,295.22 L341.22,295.19 L342.19,295.16 L343.14,295.12 L344.08,295.08 L345.00,295.00 L345.88,294.93 L346.72,294.88 L347.54,294.84 L348.35,294.78 L349.18,294.69 L350.05,294.54 L350.99,294.32 L352.00,294.00 L353.12,293.58 L354.34,293.08 L355.62,292.51 L356.94,291.88 L358.26,291.20 L359.57,290.48 L360.83,289.75 L362.00,289.00 L363.10,288.23 L364.16,287.44 L365.19,286.61 L366.19,285.75 L367.16,284.86 L368.12,283.94 L369.06,282.98 L370.00,282.00 L370.93,280.98 L371.84,279.94 L372.74,278.86 L373.62,277.75 L374.49,276.61 L375.34,275.44 L376.18,274.23 L377.00,273.00 L377.79,271.80 L378.56,270.65 L379.30,269.50 L380.03,268.31 L380.75,267.02 L381.48,265.57 L382.23,263.92 L383.00,262.00 L383.81,259.83 L384.66,257.46 L385.53,254.91 L386.40,252.19 L387.26,249.32 L388.09,246.32 L388.88,243.21 L389.60,240.00 L390.25,236.77 L390.84,233.53 L391.38,230.21 L391.90,226.75 L392.40,223.07 L392.91,219.09 L393.44,214.76 L394.00,210.00 L394.59,204.71 L395.19,198.91 L395.80,192.71 L396.42,186.25 L397.05,179.63 L397.69,172.97 L398.34,166.39 L399.00,160.00 L399.69,153.61 L400.42,147.03 L401.16,140.37 L401.91,133.75 L402.66,127.29 L403.38,121.09 L404.06,115.29 L404.70,110.00 L405.28,105.20 L405.82,100.79 L406.33,96.71 L406.82,92.94 L407.29,89.42 L407.75,86.12 L408.22,82.99 L408.70,80.00 L409.18,77.18 L409.65,74.60 L410.11,72.23 L410.57,70.06 L411.04,68.07 L411.51,66.24 L412.00,64.56 L412.50,63.00 L413.02,61.55 L413.56,60.22 L414.12,59.03 L414.68,58.00 L415.25,57.16 L415.81,56.53 L416.36,56.14 L416.90,56.00 L417.43,56.14 L417.96,56.53 L418.49,57.16 L419.01,58.00 L419.53,59.03 L420.03,60.22 L420.52,61.55 L421.00,63.00 L421.46,64.56 L421.91,66.24 L422.34,68.07 L422.76,70.06 L423.18,72.23 L423.59,74.60 L423.99,77.18 L424.40,80.00 L424.78,82.99 L425.14,86.12 L425.47,89.42 L425.81,92.94 L426.16,96.71 L426.55,100.79 L426.99,105.20 L427.50,110.00 L428.09,115.29 L428.73,121.09 L429.43,127.29 L430.16,133.75 L430.92,140.37 L431.69,147.03 L432.45,153.61 L433.20,160.00 L433.97,166.41 L434.77,173.04 L435.60,179.76 L436.42,186.44 L437.23,192.93 L437.99,199.12 L438.69,204.85 L439.30,210.00 L439.80,214.42 L440.18,218.19 L440.49,221.47 L440.77,224.46 L441.04,227.32 L441.35,230.25 L441.72,233.41 L442.20,237.00 L442.78,241.10 L443.42,245.59 L444.11,250.30 L444.84,255.08 L445.61,259.77 L446.40,264.21 L447.20,268.24 L448.00,271.70 L448.82,274.59 L449.66,277.06 L450.52,279.18 L451.41,281.02 L452.30,282.65 L453.20,284.14 L454.10,285.57 L455.00,287.00 L455.91,288.41 L456.84,289.72 L457.79,290.93 L458.73,292.02 L459.67,292.98 L460.58,293.80 L461.46,294.48 L462.30,295.00 L463.07,295.27 L463.78,295.28 L464.45,295.09 L465.11,294.78 L465.76,294.44 L466.45,294.14 L467.19,293.97 L468.00,294.00 L468.89,294.24 L469.85,294.61 L470.85,295.08 L471.89,295.61 L472.94,296.15 L473.98,296.67 L475.01,297.14 L476.00,297.50 L477.01,297.78 L478.09,298.01 L479.18,298.21 L480.25,298.37 L481.26,298.50 L482.16,298.62 L482.92,298.71 L483.50,298.80" fill="none" stroke="#ff0000" stroke-width="1.65" stroke-linejoin="round"/><line x1="322.8" y1="49.8" x2="343.4" y2="49.8" stroke="#000" stroke-width="1.75"/><line x1="322.8" y1="64" x2="343.4" y2="64" stroke="#000" stroke-width="1.75" stroke-dasharray="6.5 3.9"/><line x1="322.8" y1="78" x2="343.4" y2="78" stroke="#0000ff" stroke-width="1.75"/><line x1="322.8" y1="92.4" x2="343.4" y2="92.4" stroke="#ff0000" stroke-width="1.75"/><g font-family='"Liberation Sans", sans-serif' fill="#000" font-size="9.7" stroke="#000" stroke-width="0.12"><text x="0" y="0" transform="translate(352.4 53) scale(1.0 1)">Regions</text><text x="0" y="0" transform="translate(352.4 67.3) scale(1.0 1)">GC groups</text><text x="0" y="0" transform="translate(352.4 81.5) scale(1.0 1)">k groups</text><text x="0" y="0" transform="translate(352.4 95.8) scale(1.0 1)">Meigh</text><text x="0" y="0" transform="translate(352.4 105.5) scale(1.0 1)">groups</text></g></svg></body></html>
